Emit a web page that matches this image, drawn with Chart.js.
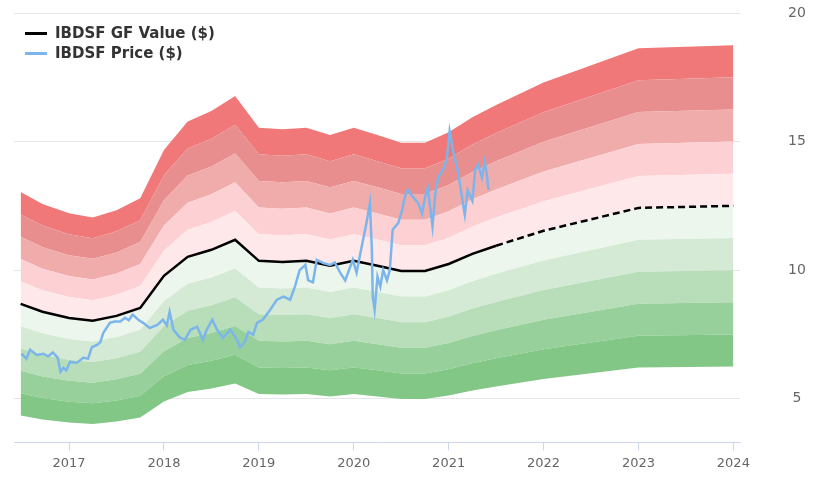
<!DOCTYPE html>
<html>
<head>
<meta charset="utf-8">
<script src="https://cdn.jsdelivr.net/npm/chart.js@4.4.0/dist/chart.umd.min.js"></script>
<style>
  html, body { margin: 0; padding: 0; background: #fff; }
  #wrap { position: relative; width: 820px; height: 492px; }
  #legend { position: absolute; left: 25px; top: 23px; font: bold 15px "DejaVu Sans", sans-serif; color: #333; }
  #legend div { display: flex; align-items: center; height: 20px; white-space: nowrap; }
  #legend span { display: inline-block; width: 22px; height: 3px; margin-right: 8px; }
</style>
</head>
<body>
<div id="wrap">
  <canvas id="grafico" width="820" height="492"></canvas>
  <div id="legend">
    <div><span style="background:#000"></span>IBDSF GF Value ($)</div>
    <div><span style="background:#7cb5ec"></span>IBDSF Price ($)</div>
  </div>
</div>
<script>
// GF Value (years as decimals)
const gfDates = [2016.49, 2016.72, 2017.0, 2017.25, 2017.5, 2017.75, 2018.0, 2018.25, 2018.5, 2018.75,
  2019.0, 2019.25, 2019.5, 2019.75, 2020.0, 2020.25, 2020.5, 2020.75, 2021.0, 2021.25, 2021.5,
  2022.0, 2023.0, 2024.0];
const gfValues = [8.69, 8.38, 8.14, 8.03, 8.22, 8.53, 9.78, 10.52, 10.79, 11.18,
  10.36, 10.32, 10.36, 10.17, 10.36, 10.17, 9.97, 9.97, 10.24, 10.63, 10.95,
  11.53, 12.42, 12.5];
const estimateFrom = 2021.5;

// Precio
const priceDates = [2016.50, 2016.55, 2016.59, 2016.66, 2016.73, 2016.78, 2016.83, 2016.88, 2016.91, 2016.94,
  2016.97, 2017.01, 2017.08, 2017.12, 2017.15, 2017.20, 2017.24, 2017.30, 2017.33, 2017.36,
  2017.43, 2017.48, 2017.54, 2017.59, 2017.63, 2017.67, 2017.73, 2017.78, 2017.85, 2017.93,
  2017.99, 2018.03, 2018.06, 2018.10, 2018.14, 2018.17, 2018.22, 2018.28, 2018.35, 2018.41,
  2018.45, 2018.51, 2018.56, 2018.62, 2018.70, 2018.77, 2018.80, 2018.85, 2018.89, 2018.94,
  2018.98, 2019.04, 2019.12, 2019.19, 2019.26, 2019.33, 2019.38, 2019.43, 2019.49, 2019.52,
  2019.57, 2019.61, 2019.68, 2019.75, 2019.80, 2019.86, 2019.91, 2019.96, 2019.99, 2020.03,
  2020.07, 2020.12, 2020.14, 2020.17, 2020.19, 2020.20, 2020.22, 2020.25, 2020.28, 2020.31,
  2020.35, 2020.38, 2020.41, 2020.47, 2020.51, 2020.54, 2020.57, 2020.62, 2020.68, 2020.72,
  2020.75, 2020.78, 2020.83, 2020.86, 2020.89, 2020.94, 2020.98, 2021.01, 2021.05, 2021.10,
  2021.15, 2021.17, 2021.20, 2021.25, 2021.28, 2021.31, 2021.35, 2021.38, 2021.40, 2021.42];
const priceValues = [6.75, 6.55, 6.9, 6.7, 6.75, 6.65, 6.8, 6.6, 6.05, 6.2,
  6.1, 6.43, 6.4, 6.5, 6.6, 6.55, 7.0, 7.1, 7.2, 7.55,
  7.95, 8.0, 8.0, 8.15, 8.05, 8.27, 8.07, 7.95, 7.75, 7.87,
  8.07, 7.85, 8.38, 7.68, 7.5, 7.37, 7.29, 7.68, 7.8, 7.29,
  7.68, 8.07, 7.68, 7.37, 7.68, 7.29, 7.0, 7.2, 7.6, 7.48,
  7.95, 8.07, 8.46, 8.85, 8.97, 8.85, 9.36, 10.0, 10.2, 9.6,
  9.53, 10.4, 10.27, 10.2, 10.3, 9.88, 9.6, 10.1, 10.4, 9.9,
  10.67, 11.57, 11.96, 12.6, 10.9, 8.97, 8.46, 9.75, 9.36, 10.0,
  9.6, 10.0, 11.57, 11.84, 12.35, 12.86, 13.12, 12.86, 12.6, 12.2,
  12.8, 13.2, 11.7, 13.0, 13.6, 13.9, 14.3, 15.4, 14.6, 13.8,
  12.6, 12.15, 13.1, 12.7, 13.9, 14.1, 13.6, 14.2, 13.8, 13.12];

const yearTicks = [2017, 2018, 2019, 2020, 2021, 2022, 2023, 2024];
const valueTicks = [5, 10, 15, 20];

// bandas: multiplos del GF Value
const bandFactors = [0.5, 0.6, 0.7, 0.8, 0.9, 1.0, 1.1, 1.2, 1.3, 1.4, 1.5];
const bandColors = ['#82c785', '#97d09a', '#b7deb9', '#d4ead5', '#edf6ed',
  '#ffe8ea', '#fdd0d4', '#f0abab', '#e88e8e', '#f17878'];

const datasets = [];

bandFactors.forEach(function (f, i) {
  datasets.push({
    data: gfDates.map((d, k) => ({ x: d, y: gfValues[k] * f })),
    borderWidth: 0,
    pointRadius: 0,
    fill: i === 0 ? false : '-1',
    backgroundColor: i === 0 ? 'transparent' : bandColors[i - 1],
    order: 3
  });
});

const gfPoints = gfDates.map((d, k) => ({ x: d, y: gfValues[k] }));

datasets.push({
  label: 'IBDSF GF Value ($)',
  data: gfPoints.filter(p => p.x <= estimateFrom),
  borderColor: '#000',
  borderWidth: 2.5,
  pointRadius: 0,
  fill: false,
  order: 2
});
datasets.push({
  data: gfPoints.filter(p => p.x >= estimateFrom),
  borderColor: '#000',
  borderWidth: 2.5,
  borderDash: [7, 4],
  pointRadius: 0,
  fill: false,
  order: 2
});
datasets.push({
  label: 'IBDSF Price ($)',
  data: priceDates.map((d, k) => ({ x: d, y: priceValues[k] })),
  borderColor: '#7cb5ec',
  borderWidth: 2.5,
  pointRadius: 0,
  fill: false,
  order: 1
});

const ctx = document.getElementById('grafico').getContext('2d');
const myChart = new Chart(ctx, {
  type: 'line',
  data: { datasets: datasets },
  options: {
    responsive: false,
    animation: false,
    devicePixelRatio: 1,
    layout: { padding: { left: 14, right: 14, top: 13, bottom: 16 } },
    elements: { line: { tension: 0 }, point: { radius: 0 } },
    plugins: {
      legend: { display: false },
      tooltip: { enabled: false }
    },
    scales: {
      x: {
        type: 'linear',
        min: 2016.42,
        max: 2024.07,
        afterBuildTicks: function (axis) {
          axis.ticks = yearTicks.map(v => ({ value: v }));
        },
        ticks: {
          color: '#666',
          font: { family: 'DejaVu Sans', size: 13 },
          padding: 5,
          maxRotation: 0,
          autoSkip: false,
          callback: v => String(v)
        },
        grid: { drawOnChartArea: false, color: '#ccd6eb', tickLength: 8 },
        border: { color: '#ccd6eb' }
      },
      y: {
        position: 'right',
        min: 3.3,
        max: 20,
        afterBuildTicks: function (axis) {
          axis.ticks = valueTicks.map(v => ({ value: v }));
        },
        afterFit: function (axis) {
          // el eje ocupa solo el ancho de etiquetas + separacion
          axis.width = 66;
          axis.paddingTop = 0;
          axis.paddingBottom = 0;
        },
        ticks: {
          color: '#666',
          font: { family: 'DejaVu Sans', size: 14 },
          padding: 48,
          crossAlign: 'center',
          callback: v => String(v)
        },
        grid: { color: '#e6e6e6', drawTicks: false },
        border: { display: false }
      }
    }
  }
});
</script>
</body>
</html>
